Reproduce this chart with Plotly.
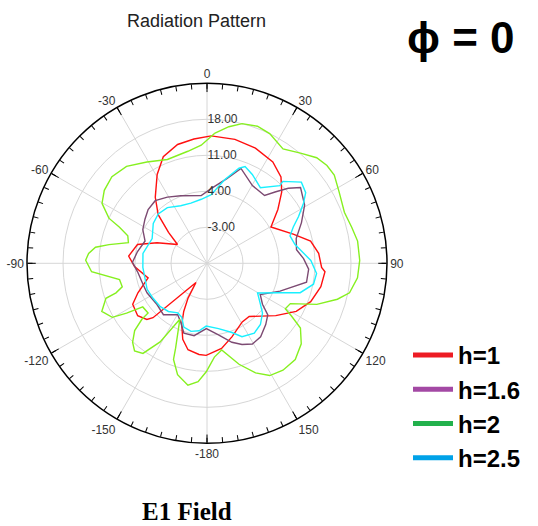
import plotly.graph_objects as go

# ---------------- data ----------------
angle_ticks = [0, 30, 60, 90, 120, 150, 180, 210, 240, 270, 300, 330]
angle_labels = ["0", "30", "60", "90", "120", "150", "-180", "-150", "-120", "-90", "-60", "-30"]
radial_ticks = [-3, 4, 11, 18]
radial_labels = ["-3.00", "4.00", "11.00", "18.00"]

red_theta = [1.9, 12.7, 22.8, 33.0, 40.6, 46.3, 52.8, 60.4, 71.3, 77.9, 84.9, 92.1, 94.1, 101.6,
             110.3, 118.3, 127.3, 141.6, 149.0, 161.3, 170.3, 180.5, 185.0, 192.4, 197.7, 202.4,
             205.8, 208.6, 209.9, 224.8, 227.0, 232.9, 241.1, 246.9, 256.1, 267.4, 275.3, 285.1,
             292.4, 302.5, 308.8, 314.9, 321.9, 330.7, 337.7, 346.1, 354.0]
red_r = [14.8, 14.7, 14.3, 13.5, 12.1, 10.1, 7.3, 4.3, 7.7, 10.6, 11.8, 12.3, 13.0, 12.6,
         11.5, 9.7, 6.8, 3.2, 3.3, 5.1, 6.8, 7.9, 7.8, 7.2, 5.5, 2.9,
         0.4, -2.3, -5.7, 4.9, 6.0, 6.9, 6.5, 4.6, 1.8, 4.1, 5.3, 4.0,
         0.5, -3.2, -0.4, 3.4, 6.3, 9.8, 12.4, 13.8, 14.3]

purple_theta = [3.4, 13.2, 19.7, 30.3, 40.3, 43.9, 47.3, 51.0, 59.2, 66.7, 74.5, 81.4, 87.2, 93.3,
                100.8, 110.9, 120.4, 126.4, 130.3, 136.2, 143.9, 150.6, 156.7, 162.5, 170.9, 180.6,
                190.1, 198.3, 204.2, 209.7, 220.3, 230.5, 243.8, 251.9, 263.0, 270.8, 279.6, 289.8,
                297.7, 305.4, 312.4, 320.4, 329.1, 338.8, 355.1]
purple_r = [4.6, 6.9, 9.6, 7.5, 7.3, 9.3, 11.5, 13.4, 12.1, 10.0, 8.0, 7.6, 8.8, 9.8,
            9.7, 5.2, 2.0, 3.4, 5.5, 6.5, 7.7, 8.0, 7.2, 6.1, 4.1, 2.7,
            4.3, 4.3, 2.5, 1.5, 3.1, 2.6, 3.0, 3.1, 3.6, 4.5, 3.7, 2.8,
            4.1, 4.8, 5.5, 5.8, 5.0, 4.1, 3.2]

green_theta = [3.3, 9.1, 14.1, 20.2, 25.8, 33.6, 40.3, 46.1, 50.8, 55.3, 61.6, 69.6, 76.0, 81.6,
               88.9, 95.5, 101.7, 105.4, 110.5, 115.8, 120.1, 121.9, 124.7, 130.5, 137.5, 144.6,
               150.8, 156.1, 162.4, 170.4, 175.5, 180.4, 184.3, 188.9, 194.8, 199.2, 200.3, 205.9,
               210.8, 215.4, 219.6, 223.3, 227.1, 229.3, 229.8, 235.8, 238.2, 240.3, 245.4, 250.9,
               252.0, 254.5, 259.4, 265.8, 271.4, 274.8, 278.2, 280.8, 284.7, 289.1, 292.4, 294.7,
               299.7, 305.4, 312.3, 320.3, 329.3, 339.1, 350.3, 357.2]
green_r = [15.3, 16.9, 18.0, 18.4, 18.0, 16.7, 18.1, 19.6, 20.1, 20.1, 19.2, 18.5, 19.0, 19.6,
           19.7, 19.4, 18.3, 16.3, 12.8, 8.0, 7.6, 9.3, 12.1, 14.1, 15.4, 15.5,
           15.0, 13.3, 10.6, 7.1, 8.3, 11.1, 13.1, 14.0, 12.4, 9.8, 7.6, 2.1,
           7.8, 11.5, 12.1, 11.1, 9.2, 6.7, 5.0, 5.1, 8.4, 11.2, 12.5, 10.8,
           8.6, 7.1, 7.3, 12.5, 13.6, 13.1, 11.9, 9.4, 5.8, 6.3, 8.4, 11.0,
           13.5, 14.5, 15.0, 14.5, 12.9, 11.6, 12.1, 13.0]

cyan_theta = [3.6, 11.9, 18.6, 21.5, 27.0, 35.2, 43.2, 42.8, 49.3, 54.4, 58.1, 62.9, 67.2, 71.7,
              78.0, 84.1, 88.4, 95.3, 101.1, 107.5, 112.0, 120.4, 127.5, 131.9, 138.9, 145.9,
              154.5, 160.2, 170.0, 180.7, 186.7, 193.2, 200.0, 205.0, 210.5, 218.7, 227.1, 237.0,
              246.5, 256.8, 266.3, 278.8, 294.3, 306.5, 315.4, 324.6, 335.4, 345.0, 354.9]
cyan_r = [3.4, 6.6, 9.5, 10.2, 9.4, 8.0, 10.7, 11.7, 14.2, 13.6, 12.1, 10.0, 8.2, 7.0,
          7.5, 8.9, 10.2, 11.4, 11.1, 9.0, 5.3, 1.4, 3.1, 4.5, 5.8, 6.4,
          5.8, 4.3, 2.9, 2.2, 3.2, 3.6, 3.2, 1.6, 1.2, 2.0, 2.4, 2.5,
          2.7, 2.4, 2.5, 2.6, 1.7, 3.0, 3.5, 3.3, 2.3, 2.1, 2.5]

series_names = ["h=1", "h=1.6", "h=2", "h=2.5"]
line_colors = ["#ff1010", "#7c4a72", "#86f020", "#19f0ff"]
legend_colors = ["#ed1c24", "#a349a4", "#22b14c", "#00a2e8"]

# ---------------- figure ----------------
W, H = 538, 526
fig = go.Figure()

all_theta = [red_theta, purple_theta, green_theta, cyan_theta]
all_r = [red_r, purple_r, green_r, cyan_r]
for th, rr, col in zip(all_theta, all_r, line_colors):
    fig.add_trace(go.Scatterpolar(theta=th + [th[0]], r=rr + [rr[0]], mode="lines",
                                  line=dict(color=col, width=1.4), showlegend=False,
                                  hoverinfo="skip", subplot="polar"))

for name, col in zip(series_names, legend_colors):
    fig.add_trace(go.Scatterpolar(theta=[None], r=[None], mode="lines", name=name,
                                  line=dict(color=col, width=5), subplot="polar",
                                  hoverinfo="skip"))

# carrier for minor ticks
fig.add_trace(go.Scatterpolar(theta=[None], r=[None], mode="lines", showlegend=False,
                              hoverinfo="skip", subplot="polar2"))

R = 180
cx, cy = 207.0, H - 263.3
dom = dict(x=[(cx - R) / W, (cx + R) / W], y=[(cy - R) / H, (cy + R) / H])

tick_font = dict(family="Liberation Sans, Arial, sans-serif", size=12, color="#333333")
grid = "#d6d6d6"

fig.update_layout(
    width=W, height=H,
    margin=dict(l=0, r=0, t=0, b=0),
    paper_bgcolor="white",
    polar=dict(
        domain=dom,
        bgcolor="white",
        angularaxis=dict(rotation=90, direction="clockwise", tickmode="array",
                         tickvals=angle_ticks, ticktext=angle_labels,
                         ticks="inside", ticklen=8, tickcolor="black", tickwidth=1,
                         showline=True, linecolor="black", linewidth=1.5,
                         gridcolor=grid, gridwidth=1, tickfont=tick_font),
        radialaxis=dict(range=[-10, 25], tickmode="array", tickvals=radial_ticks,
                        ticktext=radial_labels, angle=90, tickangle=90, showline=False,
                        ticks="", gridcolor=grid, gridwidth=1, tickfont=tick_font),
    ),
    polar2=dict(
        domain=dom,
        bgcolor="rgba(0,0,0,0)",
        angularaxis=dict(rotation=90, direction="clockwise", tickmode="linear",
                         tick0=0, dtick=5, ticks="inside", ticklen=5, tickcolor="black",
                         showticklabels=False, showgrid=False, showline=False),
        radialaxis=dict(visible=False, range=[-10, 25]),
    ),
    legend=dict(x=408 / W, y=1 - 333 / H, xanchor="left", yanchor="top",
                font=dict(family="Liberation Sans, Arial, sans-serif", size=24, color="black",
                          weight="bold"),
                bgcolor="rgba(0,0,0,0)", itemwidth=40),
    annotations=[
        dict(text="Radiation Pattern", x=196 / W, y=1 - 21 / H, xref="paper", yref="paper",
             showarrow=False, xanchor="center", yanchor="middle",
             font=dict(family="Liberation Sans, Arial, sans-serif", size=18, color="#222222")),
        dict(text="ϕ = 0", x=461 / W, y=1 - 38 / H, xref="paper", yref="paper",
             showarrow=False, xanchor="center", yanchor="middle",
             font=dict(family="Liberation Sans, Arial, sans-serif", size=44, color="black",
                       weight="bold")),
        dict(text="<b>E1 Field</b>", x=187 / W, y=1 - 511 / H, xref="paper", yref="paper",
             showarrow=False, xanchor="center", yanchor="middle",
             font=dict(family="Liberation Serif, Times New Roman, serif", size=25, color="black")),
    ],
)

fig.write_html("out.html")
